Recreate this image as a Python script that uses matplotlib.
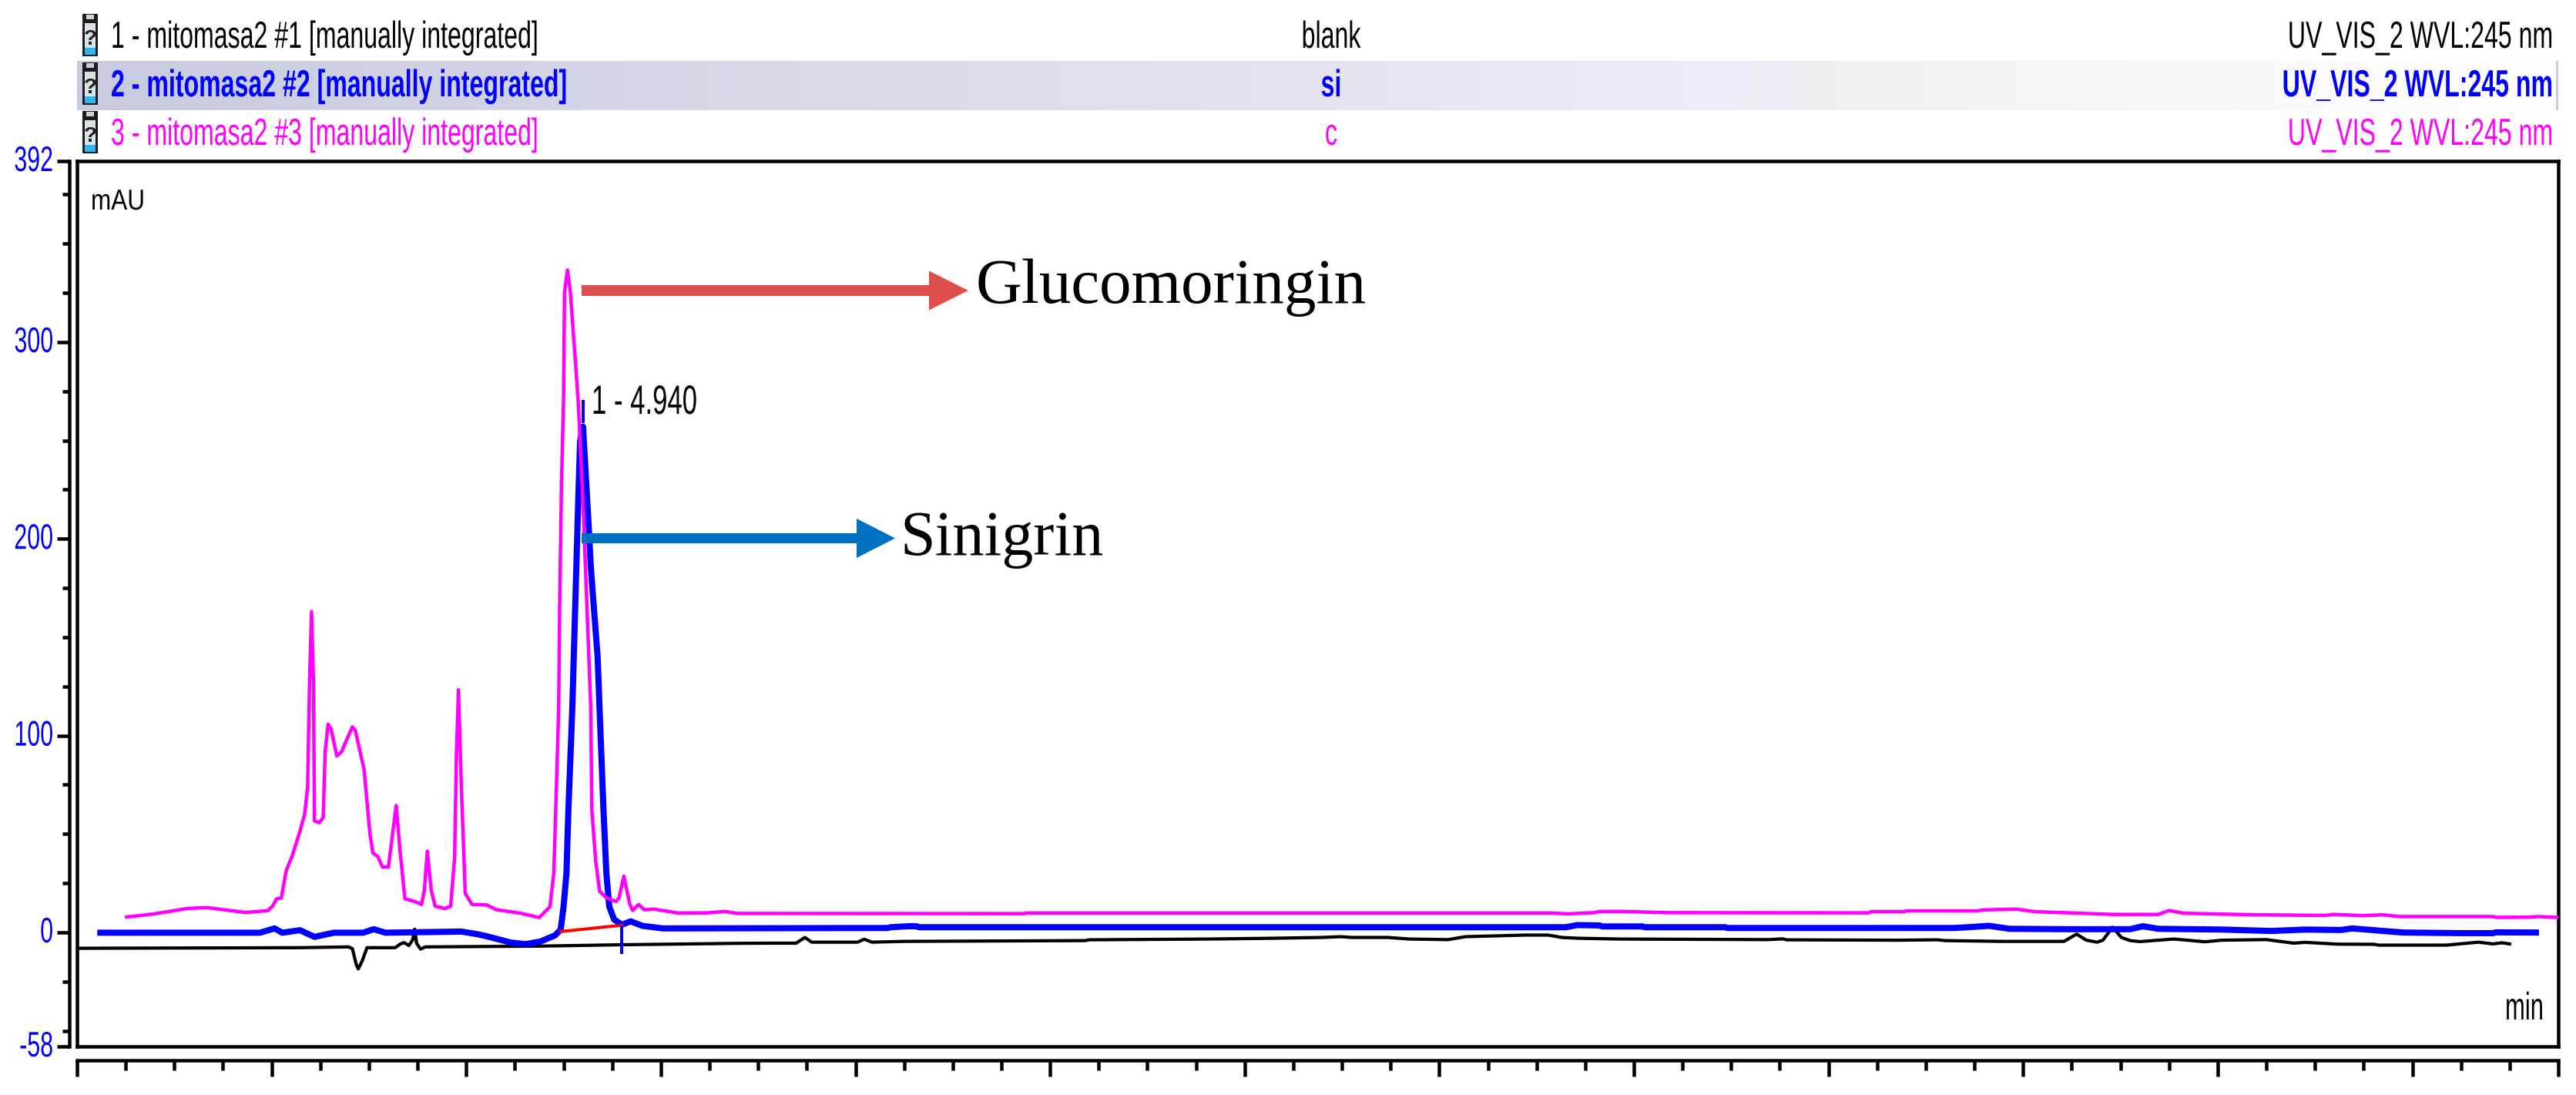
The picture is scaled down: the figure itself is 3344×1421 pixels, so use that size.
import numpy as np
import matplotlib
matplotlib.use("Agg")
import matplotlib.pyplot as plt
from matplotlib.patches import Rectangle, FancyArrow
from matplotlib.patheffects import AbstractPathEffect
from matplotlib.transforms import Affine2D

W, H, DPI = 3344, 1421, 100
SANS = "Liberation Sans"

# ---------- data ----------
sample_time = [0.51, 0.77, 1.13, 1.33, 1.73, 1.96, 2.01, 2.05, 2.10, 2.15, 2.21, 2.29, 2.34, 2.37, 2.39, 2.41,
               2.43, 2.44, 2.49, 2.53, 2.55, 2.58, 2.61, 2.67, 2.72, 2.77, 2.83, 2.86, 2.95, 3.01, 3.04, 3.09,
               3.14, 3.20, 3.23, 3.28, 3.32, 3.37, 3.47, 3.54, 3.57, 3.60, 3.64, 3.68, 3.78, 3.84, 3.88, 3.90,
               3.92, 3.95, 3.99, 4.06, 4.21, 4.31, 4.56, 4.75, 4.86, 4.90, 4.92, 4.95, 4.96, 4.98, 5.00, 5.01,
               5.04, 5.07, 5.12, 5.15, 5.20, 5.24, 5.28, 5.29, 5.33, 5.37, 5.44, 5.54, 5.57, 5.62, 5.68, 5.71,
               5.77, 5.83, 5.93, 6.18, 6.48, 6.66, 6.78, 7.13, 9.74, 9.75, 15.14, 15.33, 15.59, 15.65, 15.87,
               16.36, 18.41, 18.44, 18.78, 18.80, 19.53, 19.59, 19.93, 20.12, 20.93, 21.39, 21.50, 21.65, 22.38,
               23.10, 23.19, 23.49, 23.70, 23.87, 24.83, 24.87, 25.19, 25.30, 25.49]
sample_mau = [7.8, 9.2, 12.1, 12.6, 10.1, 11.0, 13.3, 17, 17.5, 31.4, 38.6, 51.2, 60.2, 73.7, 127.8, 163,
              127.8, 56.6, 55.7, 58.4, 91.8, 105.8, 103.5, 89.6, 91.8, 97.7, 104.4, 102.6, 82.8, 50.3, 40.4, 38.6,
              33.2, 33.2, 44.9, 64.4, 41.3, 17, 15.7, 14.2, 21.5, 41.3, 21.5, 13.3, 12.1, 13.3, 37.7, 91.8,
              123.3, 73.7, 19.7, 14.2, 13.9, 11.5, 9.7, 7.5, 13, 30, 62.7, 113.7, 166, 231, 270.6, 325,
              336.6, 325.5, 291.5, 270.6, 218, 166, 113.7, 62.7, 36.5, 20.9, 17.6, 15.7, 17.5, 28.6, 14.4, 11.1,
              14.1, 11.5, 11.8, 9.8, 9.9, 10.6, 9.6, 9.6, 9.5, 9.8, 9.8, 9.4, 10, 10.6, 10.6,
              10, 9.9, 10.5, 10.5, 10.9, 10.9, 11.4, 11.8, 10.5, 9.1, 9.1, 11.1, 9.7, 8.9,
              8.6, 9.1, 8.5, 8.9, 8, 8, 7.6, 7.7, 8, 7.6]

standard_time = [0.24, 1.88, 2.03, 2.11, 2.29, 2.44, 2.64, 2.94, 3.05, 3.17, 3.95, 4.12, 4.21, 4.46, 4.61, 4.76,
                 4.91, 4.97, 5.00, 5.03, 5.05, 5.09, 5.15, 5.17, 5.20, 5.23, 5.26, 5.28, 5.32, 5.35, 5.37, 5.41,
                 5.44, 5.47, 5.52, 5.60, 5.69, 5.81, 6.02, 8.33, 8.36, 8.55, 8.63, 8.65, 15.30, 15.42, 15.65, 15.67,
                 16.09, 16.11, 16.94, 16.96, 19.29, 19.43, 19.65, 19.86, 20.48, 21.10, 21.23, 21.39, 22.06, 22.55,
                 22.90, 23.27, 23.38, 23.70, 23.91, 24.47, 24.83, 24.86, 25.27]
standard_mau = [-0.2, -0.2, 2, -0.2, 1.1, -2.3, -0.2, -0.2, 1.6, -0.2, 0.4, -1, -2, -5.2, -6, -4.7,
                -1.6, 1.3, 13, 30, 62.7, 113.7, 218, 249.6, 257, 231, 205, 185.6, 159.6, 140, 113.7, 62.7,
                30, 13, 6.5, 3.9, 5.6, 3.3, 2, 2.2, 2.6, 3.1, 3.1, 2.6, 2.6, 3.7, 3.5, 3,
                3, 2.6, 2.6, 2.2, 2.2, 2.6, 3.3, 1.8, 1.6, 1.6, 3.1, 1.8, 1.4, 0.7,
                1.4, 1.2, 2, 0.7, -0.1, -0.4, -0.4, 0, -0.1]

blank_time = [0, 2.29, 2.79, 2.83, 2.87, 2.89, 2.93, 2.98, 3.27, 3.32, 3.36, 3.41, 3.45, 3.47, 3.49, 3.53, 3.58,
              4.76, 5.61, 6.78, 7.13, 7.39, 7.48, 7.55, 8.02, 8.09, 8.17, 8.50, 10.36, 10.40, 11.64, 12.30, 12.79,
              12.99, 13.10, 13.47, 13.69, 14.09, 14.27, 14.88, 15.12, 15.26, 15.42, 15.85, 17.38, 17.53, 17.57,
              18.70, 19.12, 19.20, 19.78, 20.42, 20.55, 20.65, 20.76, 20.82, 20.92, 21.01, 21.10, 21.20, 21.55,
              21.87, 22.04, 22.50, 22.78, 22.90, 23.23, 23.61, 23.65, 24.35, 24.68, 24.83, 24.92, 25.00]
blank_mau = [-8.1, -7.8, -7.4, -8.3, -16.4, -18.6, -14.6, -7.8, -7.8, -6, -5.2, -6.7, -3.8, 1.6, -5.6, -8.5, -7.4,
             -7, -6.3, -5.6, -5.5, -5.5, -2.6, -5, -5, -3.5, -5, -4.6, -4.2, -3.8, -3.4, -3, -2.6,
             -2.2, -2.6, -2.6, -3.4, -3.7, -2.2, -1.4, -1.4, -2.6, -3, -3.4, -3.7, -3.3, -3.8,
             -4, -3.8, -4.2, -4.6, -4.6, -0.9, -4, -5, -4, 2.6, -2.6, -4.2, -4.7, -3.4,
             -4.8, -4, -3.7, -5.5, -5.1, -6, -6.1, -6.5, -6.5, -5, -5.9, -5.3, -5.9]

baseline_time = [4.97, 5.60]
baseline_mau = [0.4, 3.6]
delimiter_time = [5.60, 5.60]
delimiter_mau = [3.6, -11]
peak_mark_time = [5.20, 5.20]
peak_mark_mau = [259, 270.6]

y_major = [-58, 0, 100, 200, 300, 392]
y_minor = [-50, -25, 25, 50, 75, 125, 150, 175, 225, 250, 275, 325, 350, 375]
x_major = [0, 2, 4, 6, 8, 10, 12, 14, 16, 18, 20, 22, 24, 25.5]
x_minor = [v + d for v in range(0, 25) for d in (0.5, 1.0, 1.5) if v % 2 == 0 and v + d < 25.5]

trace_names = ["1 - mitomasa2 #1 [manually integrated]",
               "2 - mitomasa2 #2 [manually integrated]",
               "3 - mitomasa2 #3 [manually integrated]"]
trace_samples = ["blank", "si", "c"]
trace_channel = "UV_VIS_2 WVL:245 nm"
BLACK, BLUE, MAGENTA = "#000000", "#0000ff", "#ff00ff"
trace_colors = [BLACK, BLUE, MAGENTA]


class Squeeze(AbstractPathEffect):
    """Draw a text narrower about a fixed display x (the reference uses a condensed face)."""

    def __init__(self, x0, sx, dx=0.0, dy=0.0):
        super().__init__((0, 0))
        self.x0, self.sx, self.dx, self.dy = x0, sx, dx, dy

    def draw_path(self, renderer, gc, tpath, affine, rgbFace=None):
        a = affine + Affine2D().translate(-self.x0, 0).scale(self.sx, 1).translate(self.x0 + self.dx, self.dy)
        renderer.draw_path(gc, tpath, a, rgbFace)


# ---------- figure ----------
fig = plt.figure(figsize=(W / DPI, H / DPI), dpi=DPI, facecolor="white")
px = DPI / 72.0  # pixels per point


def pos(l, t, r, b):
    return [l / W, 1 - b / H, (r - l) / W, (b - t) / H]


FL, FT, FR, FB = 100, 209, 3321, 1358

ax = fig.add_axes(pos(FL, FT, FR, FB))
ax.set_xlim(0, 25.5)
ax.set_ylim(-58, 392)
ax.set_xticks([])
ax.set_yticks([])
for s in ax.spines.values():
    s.set_linewidth(4.5 / px)
ax.plot(blank_time, blank_mau, color=BLACK, lw=4.2 / px, solid_joinstyle="round", zorder=2)
ax.plot(standard_time, standard_mau, color=BLUE, lw=8 / px, solid_joinstyle="round", zorder=3)
ax.plot(sample_time, sample_mau, color=MAGENTA, lw=4.5 / px, solid_joinstyle="round", zorder=4)
ax.plot(baseline_time, baseline_mau, color="#ff0000", lw=4 / px, zorder=5)
ax.plot(delimiter_time, delimiter_mau, color=BLUE, lw=4 / px, solid_capstyle="butt", zorder=5)
ax.plot(peak_mark_time, peak_mark_mau, color=BLUE, lw=4 / px, solid_capstyle="butt", zorder=5)

# outer ruler axes
rul = fig.add_axes(pos(FL, FT, FR, FB), facecolor="none")
rul.set_xlim(0, 25.5)
rul.set_ylim(-58, 392)
rul.spines["top"].set_visible(False)
rul.spines["right"].set_visible(False)
rul.spines["left"].set_position(("outward", 10 / px))
rul.spines["bottom"].set_position(("outward", 18 / px))
rul.spines["left"].set_linewidth(4.5 / px)
rul.spines["bottom"].set_linewidth(4.5 / px)
rul.set_yticks(y_major)
rul.set_yticks(y_minor, minor=True)
rul.set_xticks(x_major)
rul.set_xticks(x_minor, minor=True)
rul.set_xticklabels([])
rul.set_yticklabels([str(v) for v in y_major], fontfamily=SANS, fontsize=46 / px, color=BLUE)
# the label box ends at x=93 before squeezing, so its full width stays inside the figure;
# the glyphs are drawn squeezed and end at x=69, left of the tick marks
for lab in rul.get_yticklabels():
    lab.set_path_effects([Squeeze(93, 0.66, dx=-24, dy=4)])
rul.tick_params(axis="y", which="major", length=16 / px, width=4.5 / px, pad=-19 / px)
rul.tick_params(axis="y", which="minor", length=9 / px, width=4.5 / px)
rul.tick_params(axis="x", which="major", length=21 / px, width=4.5 / px)
rul.tick_params(axis="x", which="minor", length=13 / px, width=4.5 / px)

# pixel overlay for header and annotations
ov = fig.add_axes([0, 0, 1, 1], facecolor="none")
ov.axis("off")
grad = np.linspace(0, 1, 512).reshape(1, -1, 1)
c0 = np.array([200, 202, 224]) / 255
rgb = c0 + (1 - c0) * grad
ov.imshow(rgb, extent=(FL, FR, 143, 79), aspect="auto", zorder=0, interpolation="bilinear")
ov.add_patch(Rectangle((FR - 3, 79), 3, 64, color="#c8cce0", lw=0, zorder=1))
ov.set_xlim(0, W)
ov.set_ylim(H, 0)


def label(x, y, s, color, size, sx, ha="left", weight="normal"):
    t = ov.text(x, y, s, color=color, fontfamily=SANS, fontsize=size / px, fontweight=weight,
                va="baseline", ha=ha)
    t.set_path_effects([Squeeze(x, sx)])
    return t


row_base = [62, 125, 188]
row_top = [18, 81, 144]
for i in range(3):
    weight = "bold" if i == 1 else "normal"
    label(144, row_base[i], trace_names[i], trace_colors[i], 49, 0.655, "left", weight)
    label(1728, row_base[i], trace_samples[i], trace_colors[i], 49, 0.655, "center", weight)
    label(3314, row_base[i], trace_channel, trace_colors[i], 49, 0.655, "right", weight)
    t = row_top[i]
    ov.add_patch(Rectangle((107, t), 20, 55, color="#1c1c1c", lw=0, zorder=2))
    ov.add_patch(Rectangle((112, t + 1), 10, 6, color="#d0d0d0", lw=0, zorder=3))
    ov.add_patch(Rectangle((110, t + 12), 14, 32, color="#d8e4ea", lw=0, zorder=3))
    ov.add_patch(Rectangle((110, t + 44), 14, 9, color="#30b4ef", lw=0, zorder=3))
    ov.text(117, t + 40, "?", color="#202020", fontfamily=SANS, fontsize=28 / px,
            fontweight="bold", va="baseline", ha="center", zorder=4)

label(118, 272, "mAU", BLACK, 37.5, 0.84)
# "min" is wider than its drawn form: keep its box inside the frame by anchoring on the left
label(3252, 1323, "min", BLACK, 50, 0.62)
label(768, 537, "1 - 4.940", BLACK, 53, 0.655)

ov.add_patch(FancyArrow(755, 377, 1257 - 755, 0, width=14, head_width=51, head_length=51,
                        length_includes_head=True, color="#dc4f4e", lw=0, zorder=6))
ov.add_patch(FancyArrow(755, 698.5, 1162 - 755, 0, width=13, head_width=51, head_length=50,
                        length_includes_head=True, color="#0070c0", lw=0, zorder=6))
ov.text(1267, 393, "Glucomoringin", color=BLACK, fontfamily="Liberation Serif", fontsize=83 / px,
        va="baseline", ha="left")
ov.text(1169, 720, "Sinigrin", color=BLACK, fontfamily="Liberation Serif", fontsize=82 / px,
        va="baseline", ha="left")

fig.savefig("out.png", dpi=DPI, facecolor="white")
